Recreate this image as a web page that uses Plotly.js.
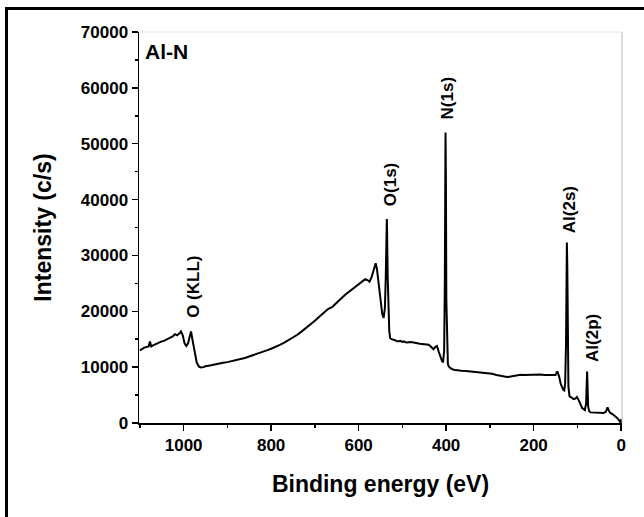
<!DOCTYPE html>
<html>
<head>
<meta charset="utf-8">
<script src="https://cdn.plot.ly/plotly-3.0.1.min.js"></script>
<style>
  html, body { margin: 0; padding: 0; background: #fff; }
  #wrap { position: relative; width: 644px; height: 517px; overflow: hidden; }
  #chart { width: 644px; height: 517px; }
  #frame { position: absolute; left: 5px; top: 7px; width: 700px; height: 600px;
           border-left: 3px solid #000; border-top: 3px solid #000; pointer-events: none; }
</style>
</head>
<body>
<div id="wrap">
  <div id="chart"></div>
  <div id="frame"></div>
</div>
<script>
// Binding energy (eV) and intensity (c/s)
const energy = [
  1100, 1095, 1090, 1085, 1080, 1077, 1074, 1070, 1065, 1060, 1055, 1050, 1045, 1040, 1035, 1030, 1025, 1020, 1015, 1010,
  1006, 1002, 998, 994, 990, 986, 983, 980, 975, 970, 965, 960, 955, 950, 940, 930, 920, 910, 900, 890,
  880, 870, 860, 850, 840, 830, 820, 810, 800, 790, 780, 770, 760, 750, 740, 730, 720, 710, 700, 690,
  680, 670, 660, 650, 640, 630, 620, 610, 600, 590, 585, 580, 575, 570, 565, 561, 558, 554, 550, 546,
  543, 540, 538, 536, 535.5, 535, 533.5, 532, 530, 528, 525, 520, 515, 510, 505, 500, 497, 490, 480, 470,
  460, 450, 440, 435, 429, 425, 421, 417, 413, 409, 407, 404.5, 403, 402, 401.4, 400.5, 399.5, 398, 396, 394,
  390, 383, 375, 365, 355, 345, 335, 325, 315, 307, 295, 285, 275, 265, 261, 255, 245, 235, 230, 220,
  210, 200, 192, 185, 175, 165, 154, 150, 146, 142, 138, 135, 132, 130, 128, 126, 125, 124, 123, 122,
  120.5, 118, 113, 108.5, 104, 101, 97, 93, 89, 86, 83, 80, 78.5, 77.8, 77, 75.5, 73, 70, 60, 50,
  40, 35, 31, 28, 24.5, 20, 15, 9, 5, 2, 0.5, 0
];
const intensity = [
  13000, 13300, 13500, 13600, 13700, 14600, 13700, 13900, 14100, 14300, 14500, 14600, 14700, 14900, 15000, 15300, 15500, 15900, 15700, 16000,
  16400, 15700, 14300, 13800, 14200, 15500, 16400, 15000, 12500, 10800, 10100, 9950, 10000, 10150, 10300, 10500, 10650, 10800, 10900, 11050,
  11200, 11450, 11650, 11900, 12150, 12450, 12700, 13000, 13300, 13600, 14000, 14400, 14850, 15300, 15800, 16400, 17000, 17600, 18300, 19000,
  19700, 20400, 20800, 21600, 22300, 23000, 23600, 24200, 24800, 25500, 25750, 25600, 25300, 26200, 27800, 28600, 27500, 24500, 21500, 19500,
  18800, 20500, 26000, 34000, 36500, 34500, 26000, 19000, 16500, 15200, 15000, 14900, 14700, 14600, 14700, 14500, 14600, 14400, 14500, 14300,
  14200, 14100, 14000, 13700, 13200, 13600, 13800, 12800, 11800, 11000, 10850, 13000, 25000, 45000, 52000, 44000, 22000, 12500, 10600, 10100,
  9800, 9530, 9400, 9350, 9300, 9230, 9150, 9050, 9000, 8940, 8800, 8600, 8400, 8300, 8220, 8300, 8450, 8550, 8640, 8600,
  8650, 8640, 8640, 8700, 8600, 8550, 8510, 8600, 9230, 8400, 7000, 6260, 5900, 5830, 7000, 14000, 26000, 32300, 28000, 15000,
  6500, 4800, 4600, 4290, 4400, 4650, 4100, 3300, 2680, 2500, 2300, 3500, 7500, 9200, 7500, 3000, 2100, 1900, 1850, 1800,
  1790, 2000, 2800, 2200, 1790, 1600, 1300, 890, 500, 100, 0, 700
];

// Peak labels: text, energy, intensity where the label is centred
const peakNames = ["O (KLL)", "O(1s)", "N(1s)", "Al(2s)", "Al(2p)"];
const peakLabelX = [976, 528, 398, 119, 67];
const peakLabelY = [24400, 42600, 58100, 38100, 15200];

const sampleName = "Al-N";
const xTitle = "Binding energy (eV)";
const yTitle = "Intensity (c/s)";

const FONT = "Liberation Sans, Arial, sans-serif";

const trace = {
  x: energy, y: intensity, type: "scatter", mode: "lines",
  line: { color: "#000", width: 2 }, hoverinfo: "skip", showlegend: false
};

const annotations = peakNames.map((t, i) => ({
  text: t, x: peakLabelX[i], y: peakLabelY[i], xref: "x", yref: "y",
  textangle: -90, showarrow: false, xanchor: "center", yanchor: "middle",
  font: { family: FONT, size: 17, color: "#000", weight: "bold" }
}));
annotations.push({
  text: sampleName, xref: "paper", yref: "paper", x: 0.008, y: 0.985,
  xanchor: "left", yanchor: "top", showarrow: false,
  font: { family: FONT, size: 21, color: "#000", weight: "bold" }
});

const layout = {
  width: 644, height: 517,
  margin: { l: 139, r: 22, t: 32, b: 94 },
  paper_bgcolor: "#fff", plot_bgcolor: "#fff",
  font: { family: FONT, color: "#000", weight: "bold" },
  xaxis: {
    range: [1102, -2], showgrid: false, zeroline: false,
    showline: true, linecolor: "#000", linewidth: 1.5,
    ticks: "outside", ticklen: 6, tickwidth: 1.5, tickcolor: "#000",
    tickmode: "linear", tick0: 0, dtick: 200, tickformat: "d",
    minor: { ticks: "outside", ticklen: 3, tickwidth: 1.5, tickcolor: "#000", dtick: 100, tick0: 0, showgrid: false },
    tickfont: { family: FONT, size: 17, color: "#000", weight: "bold" },
    title: { text: xTitle, font: { family: FONT, size: 23, color: "#000", weight: "bold" }, standoff: 22 }
  },
  yaxis: {
    range: [0, 70000], showgrid: false, zeroline: false,
    showline: true, linecolor: "#000", linewidth: 1.5,
    ticks: "outside", ticklen: 6, tickwidth: 1.5, tickcolor: "#000",
    tickmode: "linear", tick0: 0, dtick: 10000, tickformat: "d",
    minor: { ticks: "outside", ticklen: 3, tickwidth: 1.5, tickcolor: "#000", dtick: 5000, tick0: 0, showgrid: false },
    tickfont: { family: FONT, size: 17, color: "#000", weight: "bold" },
    title: { text: yTitle, font: { family: FONT, size: 23, color: "#000", weight: "bold" }, standoff: 23 }
  },
  shapes: [
    { type: "line", xref: "paper", yref: "paper", x0: 0, x1: 1, y0: 1, y1: 1, line: { color: "#e4e4e4", width: 1 } },
    { type: "line", xref: "paper", yref: "paper", x0: 1, x1: 1, y0: 0, y1: 1, line: { color: "#b8b8b8", width: 1 } }
  ],
  annotations: annotations
};

Plotly.newPlot("chart", [trace], layout, { staticPlot: true, displayModeBar: false });
</script>
</body>
</html>
